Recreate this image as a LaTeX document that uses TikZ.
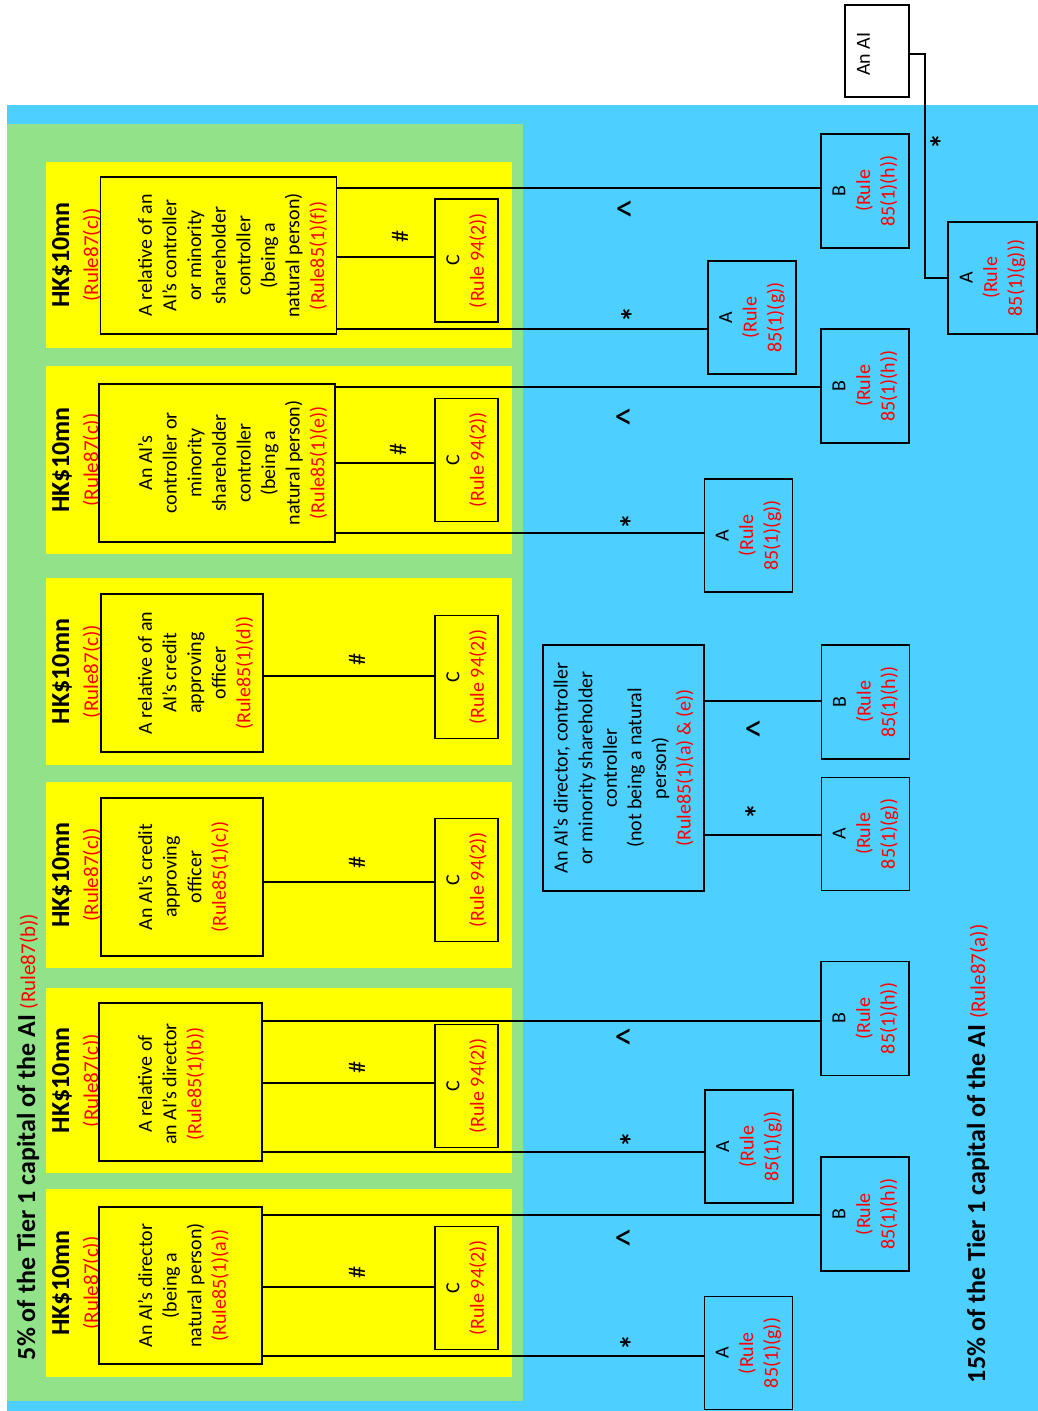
\documentclass[tikz,border=0pt]{standalone}
\usepackage{fontspec}
\setmainfont{Carlito}
\definecolor{skyb}{RGB}{77,207,255}
\definecolor{lgreen}{RGB}{146,226,138}
\definecolor{ylw}{RGB}{255,255,0}
\begin{document}
\begin{tikzpicture}[x=1pt,y=-1pt,
  every node/.style={inner sep=0pt,outer sep=0pt},
  bx/.style 2 args={draw=black,line width=1.4pt,minimum width=#1,minimum height=#2},
  conn/.style={draw=black,line width=1.4pt},
  rtxt/.style={rotate=90,align=center,font=\fontsize{20}{24.6}\selectfont},
  hk/.style={rotate=90,font=\fontsize{26}{30}\selectfont\bfseries},
  hkr/.style={rotate=90,text=red,font=\fontsize{21}{25}\selectfont},
  ttl/.style={rotate=90,anchor=west,font=\fontsize{26}{30}\selectfont\bfseries},
  hashsym/.style={rotate=90,font=\fontsize{24}{26}\selectfont},
  astsym/.style={rotate=90,font=\fontsize{32}{34}\selectfont\bfseries},
  carsym/.style={rotate=90,font=\fontsize{38}{40}\selectfont},
]
\useasboundingbox (0,0) rectangle (1038,1411);
% backgrounds
\fill[skyb] (7,105) rectangle (1038,1411);
\fill[lgreen] (7,124) rectangle (523,1401);
\foreach \ya/\yb in {162/348,366/554,578/765,782/968,988/1173,1189/1377}
  \fill[ylw] (46,\ya) rectangle (512,\yb);

% titles
\node[ttl] (t5) at (28,1360) {5\% of the Tier 1 capital of the AI {\mdseries\fontsize{21}{25}\selectfont\color{red}(Rule87(b))}};
\node[ttl] (t15) at (978,1383) {15\% of the Tier 1 capital of the AI {\mdseries\fontsize{21}{25}\selectfont\color{red}(Rule87(a))}};

% HK$10mn labels
\foreach \n/\cy in {f/255,e/460,d/671.5,c/875,b/1080.5,a/1283}{
  \node[hk] (hk\n) at (62,\cy) {HK\$10mn};
  \node[hkr] (hkr\n) at (92,\cy) {(Rule87(c))};
}

% main panel boxes
\node[bx={236pt}{157pt},fill=ylw] (pf) at (218.5,255.5) {};
\node[bx={236pt}{158pt},fill=ylw] (pe) at (217,463) {};
\node[bx={162pt}{158pt},fill=ylw] (pd) at (182,673) {};
\node[bx={162pt}{158pt},fill=ylw] (pc) at (182,877) {};
\node[bx={163pt}{158pt},fill=ylw] (pb) at (180.5,1082) {};
\node[bx={163pt}{157pt},fill=ylw] (pa) at (180.5,1285.5) {};

% C boxes
\foreach \n/\cy in {f/260.5,e/460,d/677,c/880,b/1086,a/1288}{
  \node[bx={63pt}{123pt},fill=ylw] (C\n) at (466.5,\cy) {};
  \node[rtxt] (Ct\n) at (C\n.center) {C\\\textcolor{red}{(Rule 94(2))}};
}

% B boxes
\foreach \n/\cx/\cy in {f/865/191,e/865/386,m/865.5/702,b/865/1018.5,a/865/1214}{
  \node[bx={88pt}{114pt},fill=skyb] (B\n) at (\cx,\cy) {};
  \node[rtxt] (Bt\n) at (B\n.center) {B\\\textcolor{red}{(Rule}\\\textcolor{red}{85(1)(h))}};
}

% A boxes
\foreach \n/\cx/\cy in {f/752/317.5,e/748.5/535.5,m/865.5/834,b/749/1146.5,a/748.5/1353}{
  \node[bx={88pt}{113pt},fill=skyb] (A\n) at (\cx,\cy) {};
  \node[rtxt] (At\n) at (A\n.center) {A\\\textcolor{red}{(Rule}\\\textcolor{red}{85(1)(g))}};
}
\node[bx={89pt}{112pt},fill=skyb] (Atop) at (992.5,278) {};
\node[rtxt] (Attop) at (Atop.center) {A\\\textcolor{red}{(Rule}\\\textcolor{red}{85(1)(g)))}};

% An AI box
\node[bx={64pt}{92pt},fill=white] (ai) at (877,51) {};
\node[rtxt,anchor=north] (aitxt) at (857,54) {An AI};

% middle box
\node[bx={161pt}{246pt},fill=skyb] (mid) at (623.5,768) {};
\node[rtxt] (midtxt) at (mid.center) {An AI’s director, controller\\or minority shareholder\\controller\\(not being a natural\\person)\\\textcolor{red}{(Rule85(1)(a) \& (e))}};

% panel texts
\node[rtxt,anchor=north] (tf) at (138,255.5) {A relative of an\\AI’s controller\\or minority\\shareholder\\controller\\(being a\\natural person)\\\textcolor{red}{(Rule85(1)(f))}};
\node[rtxt,anchor=north] (te) at (138,463) {An AI’s\\controller or\\minority\\shareholder\\controller\\(being a\\natural person)\\\textcolor{red}{(Rule85(1)(e))}};
\node[rtxt,anchor=north] (td) at (138,673) {A relative of an\\AI’s credit\\approving\\officer\\\textcolor{red}{(Rule85(1)(d))}};
\node[rtxt,anchor=north] (tc) at (138,877) {An AI’s credit\\approving\\officer\\\textcolor{red}{(Rule85(1)(c))}};
\node[rtxt,anchor=north] (tb) at (138,1084) {A relative of\\an AI’s director\\\textcolor{red}{(Rule85(1)(b))}};
\node[rtxt,anchor=north] (ta) at (138,1285.5) {An AI’s director\\(being a\\natural person)\\\textcolor{red}{(Rule85(1)(a))}};

% connectors
\draw[conn] (pf.east |- 0,188) -- (Bf.west |- 0,188);
\draw[conn] (pf.east |- 0,257) -- (Cf.west |- 0,257);
\draw[conn] (pf.east |- 0,329) -- (Af.west |- 0,329);
\draw[conn] (pe.east |- 0,387) -- (Be.west |- 0,387);
\draw[conn] (pe.east |- 0,463) -- (Ce.west |- 0,463);
\draw[conn] (pe.east |- 0,533) -- (Ae.west |- 0,533);
\draw[conn] (pd.east |- 0,676) -- (Cd.west |- 0,676);
\draw[conn] (pc.east |- 0,882) -- (Cc.west |- 0,882);
\draw[conn] (pb.east |- 0,1021) -- (Bb.west |- 0,1021);
\draw[conn] (pb.east |- 0,1083) -- (Cb.west |- 0,1083);
\draw[conn] (pb.east |- 0,1152) -- (Ab.west |- 0,1152);
\draw[conn] (pa.east |- 0,1215) -- (Ba.west |- 0,1215);
\draw[conn] (pa.east |- 0,1287) -- (Ca.west |- 0,1287);
\draw[conn] (pa.east |- 0,1356) -- (Aa.west |- 0,1356);
\draw[conn] (mid.east |- 0,701) -- (Bm.west |- 0,701);
\draw[conn] (mid.east |- 0,835) -- (Am.west |- 0,835);
\coordinate (aiturn) at (925,54);
\draw[conn] (ai.east |- aiturn) -- (aiturn) |- (Atop.west);

% symbols
\foreach \n/\x/\y in {f/400/237,e/398/450,d/357/660,c/357/863,b/357/1068,a/357/1273}
  \node[hashsym] (hash\n) at (\x,\y) {\#};
\foreach \n/\x/\y in {f/633/315,e/632/522,m/757/812,b/632/1140,a/632/1343,top/942/142}
  \node[astsym] (ast\n) at (\x,\y) {*};
\foreach \n/\x/\y in {f/631/209,e/630/417,m/760/729,b/630/1037,a/630/1238}
  \node[carsym] (car\n) at (\x,\y) {\textasciicircum};
\end{tikzpicture}
\end{document}
